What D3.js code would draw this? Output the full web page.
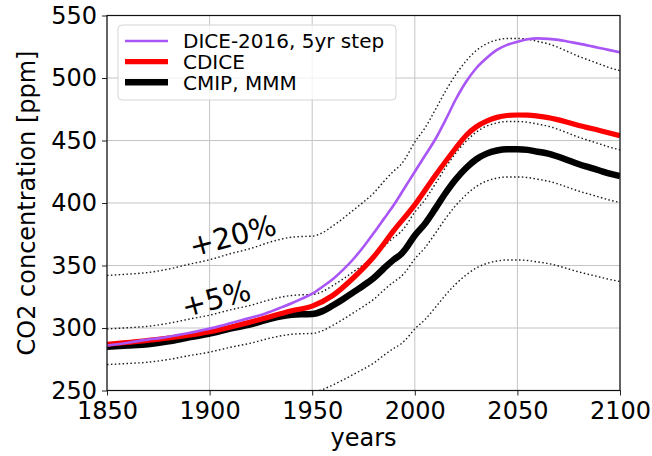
<!DOCTYPE html>
<html>
<head>
<meta charset="utf-8">
<script src="https://cdn.jsdelivr.net/npm/d3@7"></script>
<style>
  body { margin: 0; background: #fff; }
  svg { display: block; }
  text { font-family: "DejaVu Sans", sans-serif; fill: #000; }
</style>
</head>
<body>
<svg id="chart" width="652" height="456"></svg>
<script>
// CMIP multi-model mean CO2 concentration [ppm]
const mmmYears  = [1850, 1860, 1870, 1880, 1890, 1900, 1910, 1920, 1930, 1940, 1945, 1950, 1955, 1960, 1965, 1970, 1975, 1980, 1985, 1990, 1993, 1995, 2000, 2005, 2010, 2015, 2020, 2025, 2030, 2035, 2040, 2045, 2050, 2055, 2060, 2065, 2070, 2075, 2080, 2085, 2090, 2095, 2100];
const mmmValues = [285, 285.9, 287, 289.3, 292.5, 295.5, 299.5, 303, 307.5, 310.5, 311, 311.2, 313.5, 318, 323, 328.5, 334, 340, 347.8, 355, 358.6, 362.2, 374, 383.5, 395.5, 408, 419, 428, 435, 439.5, 442, 443, 443, 442.5, 441, 439.5, 437, 434, 431, 428.5, 426, 423.5, 421.5];

// CDICE
const cdiceYears  = [1850, 1875, 1900, 1925, 1940, 1950, 1960, 1970, 1980, 1990, 2000, 2010, 2020, 2025, 2030, 2035, 2040, 2045, 2050, 2055, 2060, 2065, 2070, 2080, 2090, 2100];
const cdiceValues = [287, 291, 297, 307, 313.8, 317.5, 326, 340, 357, 378.5, 398.5, 422, 444, 454, 461, 465.5, 468.5, 470, 470.4, 470.3, 469.5, 468.3, 466.5, 462, 458, 453.9];

// DICE-2016, 5yr step
const diceYears  = [1850, 1855, 1860, 1865, 1870, 1875, 1880, 1885, 1890, 1895, 1900, 1905, 1910, 1915, 1920, 1925, 1930, 1935, 1940, 1945, 1950, 1955, 1960, 1965, 1970, 1975, 1980, 1985, 1990, 1995, 2000, 2005, 2010, 2015, 2020, 2025, 2030, 2035, 2040, 2045, 2050, 2055, 2060, 2065, 2070, 2075, 2080, 2085, 2090, 2095, 2100];
const diceValues = [286, 287, 288.2, 289.5, 290.7, 291.7, 293, 294.5, 296, 297.7, 299.5, 301.5, 303.8, 306, 308.2, 310.4, 313.3, 316.5, 319.8, 323.5, 327.5, 333, 339, 346.5, 355, 365, 376, 387.5, 399, 412, 425, 438, 451, 466.5, 483, 497, 508, 516, 522.5, 526.5, 529, 531, 531.7, 531.3, 530.5, 529, 527.5, 525.8, 524, 522.3, 520.5];

// Relative envelopes around the multi-model mean
const bandFactors = [1.2, 1.05, 0.95, 0.8];

const xTicks = [1850, 1900, 1950, 2000, 2050, 2100];
const yTicks = [250, 300, 350, 400, 450, 500, 550];

const legendLabels = ["DICE-2016, 5yr step", "CDICE", "CMIP, MMM"];
const bandLabels = [
  { text: "+20%", year: 1911.2, ppm: 374 },
  { text: "+5%",  year: 1903.1, ppm: 323.8 }
];

const W = 652, H = 456;
const margin = { left: 107, right: 32, top: 15.5, bottom: 65.5 };
const iw = W - margin.left - margin.right;
const ih = H - margin.top - margin.bottom;

const svg = d3.select("#chart");
const g = svg.append("g").attr("transform", `translate(${margin.left},${margin.top})`);

const x = d3.scaleLinear().domain([1850, 2100]).range([0, iw]);
const y = d3.scaleLinear().domain([250, 550]).range([ih, 0]);

// grid
g.append("g").selectAll("line").data(xTicks).join("line")
  .attr("x1", d => x(d)).attr("x2", d => x(d)).attr("y1", 0).attr("y2", ih)
  .attr("stroke", "#c4c4c4").attr("stroke-width", 1);
g.append("g").selectAll("line").data(yTicks).join("line")
  .attr("x1", 0).attr("x2", iw).attr("y1", d => y(d)).attr("y2", d => y(d))
  .attr("stroke", "#c4c4c4").attr("stroke-width", 1);

svg.append("defs").append("clipPath").attr("id", "plotClip")
  .append("rect").attr("x", 0).attr("y", 0).attr("width", iw).attr("height", ih);

const plot = g.append("g").attr("clip-path", "url(#plotClip)");

const toPts = (ys, vs) => ys.map((yr, i) => ({ year: yr, v: vs[i] }));
const line = d3.line().x(d => x(d.year)).y(d => y(d.v)).curve(d3.curveMonotoneX);

// dotted envelopes
bandFactors.forEach(f => {
  plot.append("path")
    .datum(toPts(mmmYears, mmmValues.map(v => v * f)))
    .attr("d", line)
    .attr("fill", "none")
    .attr("stroke", "#1a1a1a")
    .attr("stroke-width", 1.4)
    .attr("stroke-dasharray", "1.5,2.4");
});

const series = [
  { pts: toPts(diceYears, diceValues),  color: "#aa55f5", width: 2.6 },
  { pts: toPts(cdiceYears, cdiceValues), color: "#ff0000", width: 5.2 },
  { pts: toPts(mmmYears, mmmValues),    color: "#000000", width: 6.5 }
];

// draw mean first, then CDICE, then DICE on top
[series[2], series[1], series[0]].forEach(s => {
  plot.append("path").datum(s.pts).attr("d", line)
    .attr("fill", "none").attr("stroke", s.color).attr("stroke-width", s.width)
    .attr("stroke-linejoin", "round").attr("stroke-linecap", "butt");
});

// envelope annotations
bandLabels.forEach(b => {
  const px = x(b.year), py = y(b.ppm);
  g.append("text")
    .attr("transform", `translate(${px},${py}) rotate(-15)`)
    .attr("text-anchor", "middle")
    .attr("dy", "0.36em")
    .style("font-size", "29px")
    .text(b.text);
});

// axes
const xAxis = d3.axisBottom(x).tickValues(xTicks).tickFormat(d3.format("d"))
  .tickSize(5).tickSizeOuter(0).tickPadding(6);
const yAxis = d3.axisLeft(y).tickValues(yTicks).tickFormat(d3.format("d"))
  .tickSize(5).tickSizeOuter(0).tickPadding(5);

const gx = g.append("g").attr("transform", `translate(0,${ih})`).call(xAxis);
const gy = g.append("g").call(yAxis);
[gx, gy].forEach(a => {
  a.select(".domain").remove();
  a.selectAll(".tick line").attr("stroke", "#222").attr("stroke-width", 1);
  a.selectAll(".tick text").style("font-size", "24px").style("font-family", "DejaVu Sans, sans-serif").attr("fill", "#000");
});

// frame
g.append("rect").attr("x", 0).attr("y", 0).attr("width", iw).attr("height", ih)
  .attr("fill", "none").attr("stroke", "#111").attr("stroke-width", 1.2);

// axis titles
svg.append("text")
  .attr("x", margin.left + iw / 2).attr("y", 446)
  .attr("text-anchor", "middle").style("font-size", "24px").text("years");
svg.append("text")
  .attr("transform", `translate(34.5,${margin.top + ih / 2}) rotate(-90)`)
  .attr("text-anchor", "middle").style("font-size", "24px").text("CO2 concentration [ppm]");

// legend
const lg = svg.append("g");
lg.append("rect").attr("x", 118).attr("y", 25).attr("width", 278).attr("height", 75)
  .attr("rx", 4).attr("fill", "#fff").attr("fill-opacity", 0.8)
  .attr("stroke", "#d4d4d4").attr("stroke-width", 1);
const rowY = [41, 61.7, 82.3];
legendLabels.forEach((lab, i) => {
  const s = series[i];
  lg.append("line").attr("x1", 125).attr("x2", 168).attr("y1", rowY[i]).attr("y2", rowY[i])
    .attr("stroke", s.color).attr("stroke-width", s.width);
  lg.append("text").attr("x", 183).attr("y", rowY[i]).attr("dy", "0.36em")
    .style("font-size", "20px").text(lab);
});
</script>
</body>
</html>
